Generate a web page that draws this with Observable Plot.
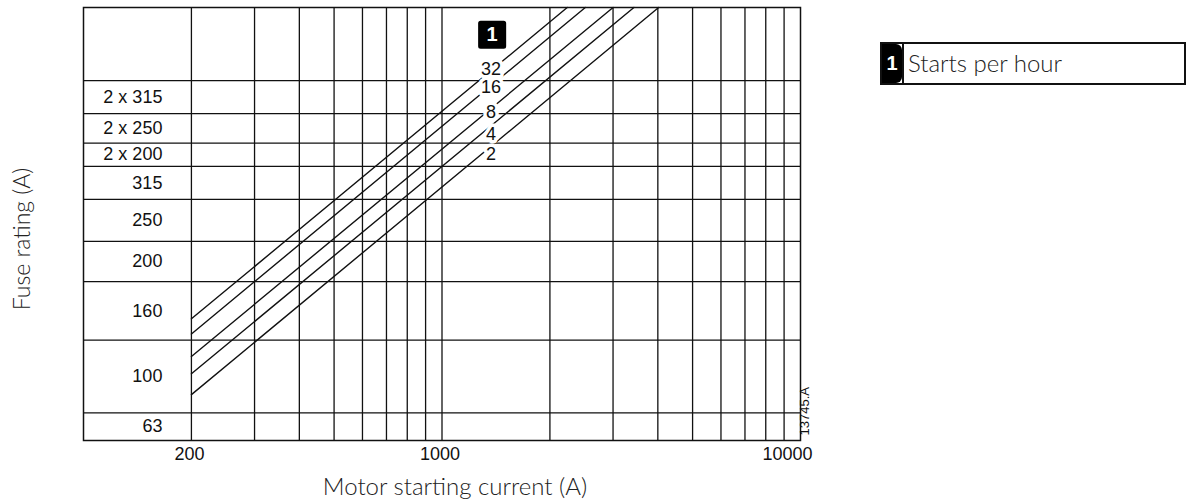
<!DOCTYPE html>
<html>
<head>
<meta charset="utf-8">
<script src="https://cdn.jsdelivr.net/npm/d3@7"></script>
<script src="https://cdn.jsdelivr.net/npm/@observablehq/plot@0.6"></script>
<style>
  html, body { margin: 0; padding: 0; background: #fff; }
  #wrap { position: relative; width: 1188px; height: 504px; }
  #legend { position: absolute; left: 880px; top: 42px; width: 306px; height: 43px;
    border: 2px solid #111; box-sizing: border-box; display: flex; background: #fff; }
  #legend .key { width: 20px; border-right: 2px solid #111; display: flex; align-items: stretch; }
  #legend .badge { flex: 1; background: #000; color: #fff; border-radius: 0 6px 6px 0;
    font: bold 20px "Liberation Sans", Arial, sans-serif; display: flex; align-items: center; justify-content: center; }
  #legend .txt { padding-left: 4px; font: 300 24px Lato, "Open Sans", sans-serif; color: #222; line-height: 37px; }
</style>
</head>
<body>
<div id="wrap">
  <div id="chart"></div>
  <div id="legend"><div class="key"><div class="badge">1</div></div><div class="txt" id="legendText"></div></div>
</div>
<script>
// ---- data ----
const xGrid = [200, 300, 400, 500, 600, 700, 800, 900, 1000, 2000, 3000, 4000, 5000, 6000, 7000, 8000, 9000];
const xTicks = [200, 1000];
const xTickLast = [10000];
const bandEdges = [0, 6.4, 23.2, 36.7, 46.0, 55.7, 63.3, 68.7, 75.5, 83.1, 100];
const fuseLabels = ["63", "100", "160", "200", "250", "315", "2 x 200", "2 x 250", "2 x 315"];
const startsPerHour = [2, 4, 8, 16, 32];
const levelAt200A = [10.6, 15.4, 19.4, 24.6, 28.1];
const currentAtTop = [4020, 3430, 3000, 2510, 2235];
const topLevel = 100;
const startCurrent = 200;
const labelCurrent = 1370;
const labelLevel = [66.0, 70.8, 75.8, 81.5, 85.8];
const badgeCurrent = 1380;
const badgeLevel = 93.7;
const fuseLabelCurrent = 166;
const legendLabel = "Starts per hour";
const xTitle = "Motor starting current (A)";
const yTitle = "Fuse rating (A)";
const drawingId = "13745.A";

// ---- build tables ----
const bands = fuseLabels.map((t, i) => ({label: t, mid: (bandEdges[i] + bandEdges[i + 1]) / 2, x: fuseLabelCurrent}));
const lineData = startsPerHour.flatMap((s, i) => [
  {s, x: startCurrent, y: levelAt200A[i]},
  {s, x: currentAtTop[i], y: topLevel}
]);
const lineLabels = startsPerHour.map((s, i) => ({text: String(s), x: labelCurrent, y: labelLevel[i]}));
const badge = [{x: badgeCurrent, y: badgeLevel, t: "1"}];

const numFont = '"Liberation Sans", Arial, sans-serif';
const titleFont = 'Lato, "Open Sans", sans-serif';
const ink = "#111";

const chart = Plot.plot({
  width: 1188,
  height: 504,
  marginLeft: 83,
  marginRight: 388,
  marginTop: 7,
  marginBottom: 64,
  style: {fontFamily: numFont, background: "#fff"},
  x: {type: "log", domain: [100, 10000], axis: null},
  y: {domain: [0, 100], axis: null},
  marks: [
    Plot.ruleX(xGrid, {stroke: ink, strokeWidth: 1.3}),
    Plot.ruleY(bandEdges.slice(1, -1), {stroke: ink, strokeWidth: 1.3}),
    Plot.frame({stroke: ink, strokeWidth: 1.5}),
    Plot.line(lineData, {x: "x", y: "y", z: "s", stroke: ink, strokeWidth: 1.4}),
    Plot.text(lineLabels, {x: "x", y: "y", text: "text", fontSize: 18, fill: ink,
      stroke: "white", strokeWidth: 7, paintOrder: "stroke", fontFamily: numFont}),
    Plot.dot(badge, {x: "x", y: "y", symbol: "square", r: 13, fill: "#000", stroke: "#000",
      strokeWidth: 5, strokeLinejoin: "round"}),
    Plot.text(badge, {x: "x", y: "y", text: "t", fill: "#fff", fontSize: 20, fontWeight: "bold", fontFamily: numFont}),
    Plot.text(bands, {x: "x", y: "mid", text: "label", textAnchor: "end", fontSize: 18, fill: ink, fontFamily: numFont}),
    Plot.text(xTicks, {x: d => d, frameAnchor: "bottom", lineAnchor: "middle", dy: 14, dx: -2, text: d => String(d),
      fontSize: 18, fill: ink, fontFamily: numFont}),
    Plot.text(xTickLast, {x: d => d, frameAnchor: "bottom", lineAnchor: "middle", dy: 14, dx: -13, text: d => String(d),
      fontSize: 18, fill: ink, fontFamily: numFont}),
    Plot.text([xTitle], {frameAnchor: "bottom", lineAnchor: "middle", dy: 47, dx: 13, text: d => d, fontSize: 24,
      fontWeight: 300, fill: "#222", fontFamily: titleFont}),
    Plot.text([yTitle], {frameAnchor: "left", textAnchor: "middle", lineAnchor: "middle", dx: -61, dy: 15, rotate: -90,
      text: d => d, fontSize: 23, fontWeight: 300, fill: "#222", fontFamily: titleFont}),
    Plot.text([drawingId], {frameAnchor: "bottom-right", dx: 8, dy: -5, rotate: -90, textAnchor: "start",
      text: d => d, fontSize: 13, fill: ink, fontFamily: numFont})
  ]
});
document.getElementById("chart").appendChild(chart);
document.getElementById("legendText").textContent = legendLabel;
</script>
</body>
</html>
